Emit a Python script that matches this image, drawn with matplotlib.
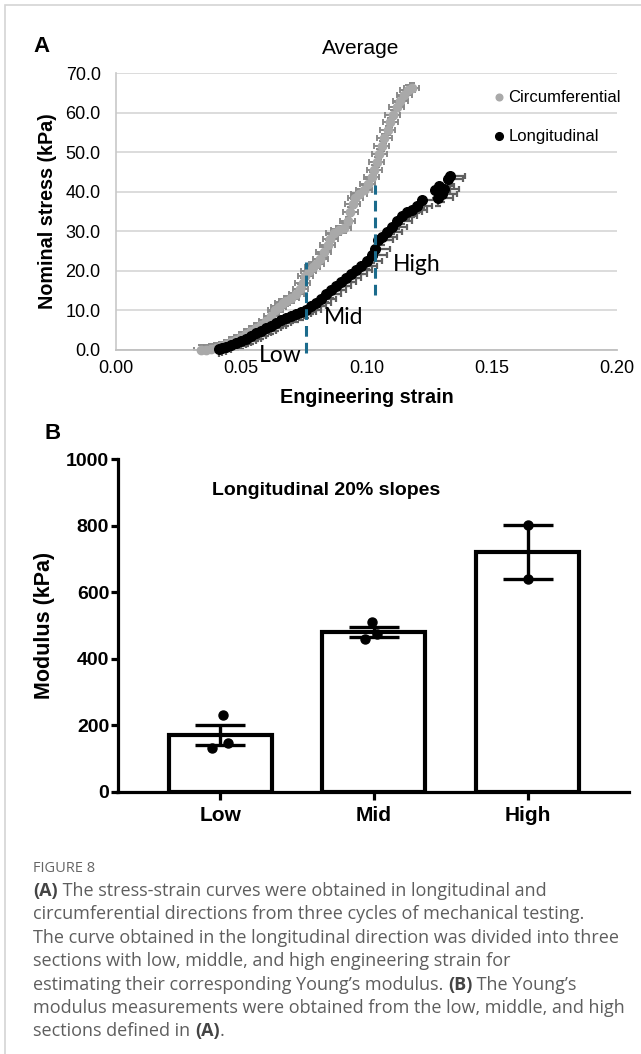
import numpy as np
import matplotlib.pyplot as plt
from matplotlib.patches import Rectangle

# panel A: averaged stress-strain curves (strain, stress kPa)
circ_strain = [0.034, 0.036, 0.038, 0.040, 0.042, 0.044, 0.046, 0.048, 0.050, 0.052,
               0.054, 0.056, 0.058, 0.060, 0.062, 0.0635, 0.065, 0.0665, 0.068, 0.070,
               0.072, 0.0735, 0.0745, 0.0755, 0.077, 0.0785, 0.080, 0.0815, 0.083, 0.0845,
               0.0855, 0.087, 0.089, 0.091, 0.0925, 0.0935, 0.0945, 0.0955, 0.097, 0.099,
               0.1005, 0.102, 0.103, 0.104, 0.105, 0.106, 0.107, 0.1085, 0.1095, 0.1105,
               0.112, 0.1135, 0.115, 0.1165, 0.118]
circ_stress = [0.0, 0.1, 0.3, 0.5, 0.9, 1.4, 2.0, 2.6, 3.3, 4.1,
               4.9, 5.6, 6.4, 7.3, 8.6, 10.0, 10.9, 11.8, 12.4, 13.2,
               14.1, 15.5, 17.0, 18.8, 20.0, 21.0, 21.8, 23.0, 24.8, 26.5,
               28.0, 29.5, 30.2, 30.8, 32.5, 35.0, 37.0, 38.5, 39.5, 40.5,
               42.0, 43.8, 45.5, 47.5, 49.5, 51.5, 53.5, 55.5, 57.5, 59.5,
               61.5, 63.0, 64.5, 65.8, 66.3]

long_strain = [0.041, 0.0425, 0.044, 0.046, 0.048, 0.050, 0.052, 0.054, 0.056, 0.058,
               0.060, 0.062, 0.064, 0.066, 0.068, 0.070, 0.072, 0.074, 0.076, 0.078,
               0.080, 0.082, 0.084, 0.086, 0.088, 0.090, 0.092, 0.094, 0.096, 0.098,
               0.100, 0.102, 0.1035, 0.1045, 0.106, 0.108, 0.110, 0.112, 0.114, 0.116,
               0.118, 0.120, 0.122, 0.1275, 0.129, 0.1285, 0.130, 0.131, 0.1325, 0.1335]
long_stress = [0.2, 0.5, 0.8, 1.2, 1.7, 2.3, 2.9, 3.5, 4.2, 4.8,
               5.5, 6.1, 6.8, 7.5, 8.1, 8.7, 9.2, 9.6, 10.1, 11.0,
               12.0, 13.0, 14.1, 15.1, 16.1, 17.1, 18.2, 19.2, 20.1, 21.2,
               22.5, 24.0, 25.5, 27.8, 28.5, 29.8, 31.2, 32.5, 33.8, 35.0,
               35.5, 36.5, 37.8, 40.5, 41.5, 38.5, 39.5, 40.8, 43.2, 44.0]

# error of the averaged cycles
circ_xerr = 0.003
circ_yerr = 1.2
long_xerr = 0.006
long_yerr = 2.0

# section boundaries (strain, stress span)
cut_strain = [0.0757, 0.1034]
cut_low = [-0.8, 13.9]
cut_high = [22.2, 41.7]
section_labels = ["Low", "Mid", "High"]
section_pos = [(0.0655, -1.5), (0.0908, 8.3), (0.1202, 21.7)]

# panel B: modulus per section (individual samples, kPa)
groups = ["Low", "Mid", "High"]
samples = [[230, 148, 133], [510, 475, 460], [803, 640]]
jitter = [[0.02, 0.05, -0.05], [-0.01, 0.02, -0.06], [0.0, 0.0]]

grey_text = "#5e5e5e"

fig = plt.figure(figsize=(6.41, 10.54), dpi=100)
fig.patches.append(Rectangle((5 / 641, -0.1), 1.2, 1 - 5 / 1054 + 0.1,
                             transform=fig.transFigure, fill=False,
                             edgecolor="#d4d4d4", lw=1.2))

# ---------------- panel A ----------------
axA = fig.add_axes([116 / 641, 1 - 350 / 1054, 501 / 641, 277 / 1054])
n_l = len(long_strain)
axA.errorbar(circ_strain, circ_stress, xerr=circ_xerr, yerr=circ_yerr, fmt="none",
             ecolor="#8a8a8a", elinewidth=1.4, capsize=2.5, capthick=1.4, zorder=2)
axA.errorbar(long_strain, long_stress,
             xerr=[np.zeros(n_l), np.full(n_l, long_xerr)],
             yerr=[np.full(n_l, long_yerr), np.zeros(n_l)],
             fmt="none", ecolor="#606060", elinewidth=1.6, capsize=2.5, capthick=1.6,
             zorder=2)
hc = axA.scatter(circ_strain, circ_stress, s=36, color="#a9a9a9", zorder=3,
                 label="Circumferential")
hl = axA.scatter(long_strain, long_stress, s=48, color="black", zorder=4,
                 label="Longitudinal")
for x, y0, y1 in zip(cut_strain, cut_low, cut_high):
    axA.plot([x, x], [y0, y1], color="#1b6b8c", lw=2.2, ls=(0, (3.5, 2)), zorder=5,
             clip_on=False)
for lab, (x, y) in zip(section_labels, section_pos):
    axA.text(x, y, lab, family="Lato", fontsize=16.5, ha="center", va="center", zorder=6)

axA.set_xlim(0, 0.2)
axA.set_ylim(0, 70)
axA.set_xticks([0, 0.05, 0.10, 0.15, 0.20])
axA.set_xticklabels(["0.00", "0.05", "0.10", "0.15", "0.20"])
axA.set_yticks(np.arange(0, 71, 10))
axA.set_yticklabels([f"{v:.1f}" for v in np.arange(0, 71, 10)])
axA.tick_params(axis="y", length=0, labelsize=13, pad=11)
axA.tick_params(axis="x", length=0, labelsize=13, pad=7)
for lbl in axA.get_xticklabels() + axA.get_yticklabels():
    lbl.set_family("Liberation Sans")
axA.grid(axis="y", color="#d9d9d9", lw=1.3)
axA.set_axisbelow(True)
for s in ["top", "right"]:
    axA.spines[s].set_visible(False)
axA.spines["left"].set_color("#c8c8c8")
axA.spines["bottom"].set_color("#c0c0c0")
axA.spines["left"].set_linewidth(1.2)
axA.spines["bottom"].set_linewidth(1.3)
for art in axA.collections:
    art.set_clip_on(False)
axA.set_xlabel("Engineering strain", family="Liberation Sans", fontsize=14.2,
               fontweight="bold")
axA.set_ylabel("Nominal stress (kPa)", family="Liberation Sans", fontsize=14.2,
               fontweight="bold")
axA.xaxis.set_label_coords(0.5, (350 - 388) / 277)
axA.yaxis.set_label_coords((57 - 116) / 501, 0.5)
axA.legend(handles=[hc, hl], loc="upper left", bbox_to_anchor=(0.755, 0.94),
           frameon=False, handlelength=0.6, handletextpad=0.25, labelspacing=1.45,
           borderaxespad=0, borderpad=0,
           prop={"family": "Liberation Sans", "size": 12}, markerscale=0.8)
fig.text(361 / 641, 1 - 49 / 1054, "Average", family="Liberation Sans", fontsize=15,
         ha="center", va="center")
fig.text(42 / 641, 1 - 47 / 1054, "A", family="Liberation Sans", fontsize=16,
         fontweight="bold", ha="center", va="center")

# ---------------- panel B ----------------
axB = fig.add_axes([117.5 / 641, 1 - 792 / 1054, 511.5 / 641, 333 / 1054])
pos = np.arange(len(groups))
means = [np.mean(s) for s in samples]
sems = [np.std(s, ddof=1) / np.sqrt(len(s)) for s in samples]
axB.bar(pos, means, width=0.67, color="white", edgecolor="black", lw=3.0, zorder=2)
axB.errorbar(pos, means, yerr=sems, fmt="none", ecolor="black", elinewidth=2.4,
             capsize=18, capthick=2.4, zorder=3)
for p, s, j in zip(pos, samples, jitter):
    axB.plot(p + np.array(j), s, "o", color="black", ms=6.5, zorder=4)
axB.text(0.69, 904, "Longitudinal 20% slopes", family="Liberation Sans",
         fontsize=14, fontweight="bold", ha="center", va="center")
axB.set_xlim(-0.668, 2.66)
axB.set_ylim(0, 1000)
axB.set_yticks(np.arange(0, 1001, 200))
axB.set_xticks(pos)
axB.set_xticklabels(groups)
for s in ["top", "right"]:
    axB.spines[s].set_visible(False)
for s in ["left", "bottom"]:
    axB.spines[s].set_linewidth(2.3)
axB.tick_params(axis="y", length=5, width=2.3, labelsize=14, pad=1)
axB.tick_params(axis="x", length=6, width=2.3, labelsize=15, pad=4)
for lbl in axB.get_xticklabels() + axB.get_yticklabels():
    lbl.set_family("Liberation Sans")
    lbl.set_fontweight("bold")
axB.set_ylabel("Modulus (kPa)", family="Liberation Sans", fontsize=15.5,
               fontweight="bold")
axB.yaxis.set_label_coords((55 - 117.5) / 511.5, 0.5)
fig.text(53 / 641, 1 - 433 / 1054, "B", family="Liberation Sans", fontsize=16,
         fontweight="bold", ha="center", va="center")

# ---------------- caption ----------------
fig.text(33 / 641, 1 - 868 / 1054, "FIGURE 8", family="Open Sans", fontsize=10.5,
         color="#666666", va="center")
cap_lines = [
    [("(A)", True), (" The stress-strain curves were obtained in longitudinal and", False)],
    [("circumferential directions from three cycles of mechanical testing.", False)],
    [("The curve obtained in the longitudinal direction was divided into three", False)],
    [("sections with low, middle, and high engineering strain for", False)],
    [("estimating their corresponding Young\u2019s modulus. ", False), ("(B)", True),
     (" The Young\u2019s", False)],
    [("modulus measurements were obtained from the low, middle, and high", False)],
    [("sections defined in ", False), ("(A)", True), (".", False)],
]
renderer = fig.canvas.get_renderer()
y = 891
for parts in cap_lines:
    x = 33 / 641
    for txt, bold in parts:
        t = fig.text(x, 1 - y / 1054, txt, family="Open Sans", fontsize=13,
                     color="#444444" if bold else grey_text,
                     fontweight="bold" if bold else "normal", va="center")
        bb = t.get_window_extent(renderer)
        x += bb.width / fig.bbox.width
    y += 23.4

fig.savefig("out.png", dpi=100)
